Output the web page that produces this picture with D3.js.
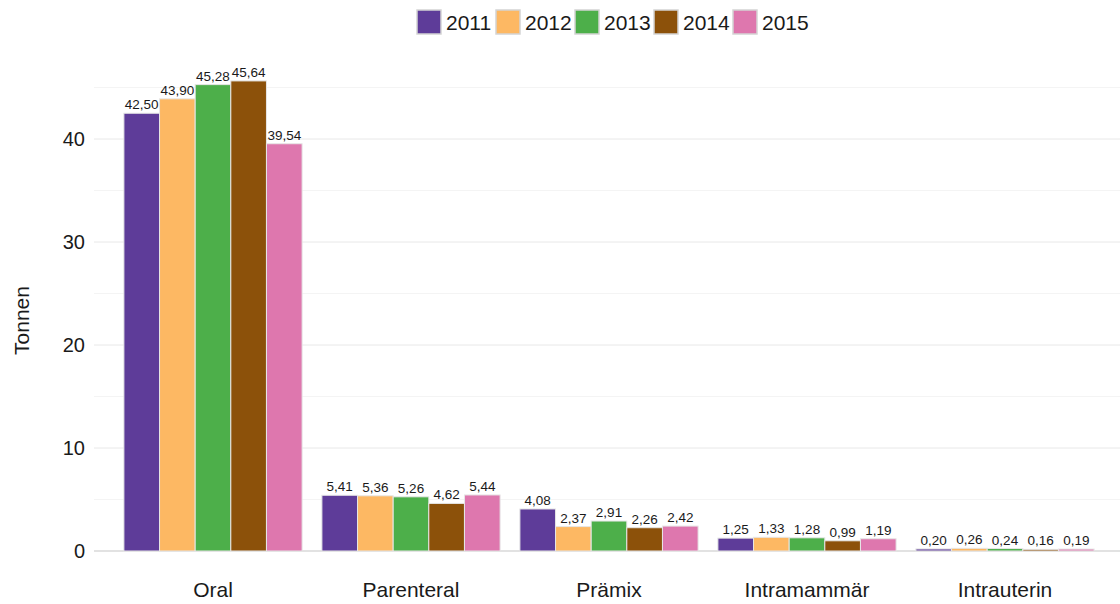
<!DOCTYPE html>
<html lang="de">
<head>
<meta charset="utf-8">
<title>Tonnen nach Applikationsart</title>
<script src="https://d3js.org/d3.v7.min.js"></script>
<style>
  html, body { margin: 0; background: white; }
  svg { font-family: 'Liberation Sans', Arial, sans-serif; }
</style>
</head>
<body>
<div id="vis"></div>
<script>
var categories = ['Oral', 'Parenteral', 'Prämix', 'Intramammär', 'Intrauterin'];
var years = ['2011', '2012', '2013', '2014', '2015'];
var colors = ['#5e3c99', '#fdb863', '#4daf4a', '#8c510a', '#de77ae'];

var v2011 = [42.50, 5.41, 4.08, 1.25, 0.20];
var v2012 = [43.90, 5.36, 2.37, 1.33, 0.26];
var v2013 = [45.28, 5.26, 2.91, 1.28, 0.24];
var v2014 = [45.64, 4.62, 2.26, 0.99, 0.16];
var v2015 = [39.54, 5.44, 2.42, 1.19, 0.19];
var series = [v2011, v2012, v2013, v2014, v2015];

var yTicks = [0, 10, 20, 30, 40];
var yMinor = [5, 15, 25, 35, 45];

var width = 1120, height = 604;
var plot = { left: 94, right: 1120, top: 60, bottom: 551 };

var svg = d3.select('#vis').append('svg')
    .attr('width', width)
    .attr('height', height);

var x0 = d3.scaleBand()
    .domain(categories)
    .range([114, 1104])
    .paddingInner(0.1)
    .paddingOuter(0.05);

var x1 = d3.scaleBand()
    .domain(years)
    .range([0, x0.bandwidth()]);

var y = d3.scaleLinear()
    .domain([0, 47.67])
    .range([plot.bottom, plot.top]);

var fmt = function(v) { return d3.format('.2f')(v).replace('.', ','); };

// grid
svg.append('g').selectAll('line.minor')
    .data(yMinor).enter().append('line')
    .attr('x1', plot.left).attr('x2', plot.right)
    .attr('y1', function(d) { return y(d); })
    .attr('y2', function(d) { return y(d); })
    .attr('stroke', '#f4f4f4').attr('stroke-width', 1);

svg.append('g').selectAll('line.major')
    .data(yTicks).enter().append('line')
    .attr('x1', plot.left).attr('x2', plot.right)
    .attr('y1', function(d) { return y(d); })
    .attr('y2', function(d) { return y(d); })
    .attr('stroke', function(d) { return d === 0 ? '#d9d9d9' : '#e8e8e8'; })
    .attr('stroke-width', function(d) { return d === 0 ? 1.5 : 1; });

// y axis labels
var yAxis = d3.axisLeft(y).tickValues(yTicks).tickSize(0).tickPadding(9);
var gy = svg.append('g')
    .attr('transform', 'translate(' + plot.left + ',0)')
    .call(yAxis);
gy.select('.domain').remove();
gy.selectAll('text')
    .attr('font-size', 20)
    .attr('fill', '#1a1a1a')
    .attr('font-family', "'Liberation Sans', Arial, sans-serif");

svg.append('text')
    .attr('transform', 'translate(29,' + ((plot.top + plot.bottom) / 2 + 15) + ') rotate(-90)')
    .attr('text-anchor', 'middle')
    .attr('font-size', 21)
    .attr('fill', '#1a1a1a')
    .text('Tonnen');

// x axis labels
var xAxis = d3.axisBottom(x0).tickSize(0).tickPadding(31);
var gx = svg.append('g')
    .attr('transform', 'translate(0,' + plot.bottom + ')')
    .call(xAxis);
gx.select('.domain').remove();
gx.selectAll('text')
    .attr('font-size', 21)
    .attr('fill', '#1a1a1a')
    .attr('font-family', "'Liberation Sans', Arial, sans-serif");

// bars
var groups = svg.append('g').selectAll('g.year')
    .data(series).enter().append('g')
    .attr('class', 'year');

groups.each(function(vals, i) {
    var g = d3.select(this);
    g.selectAll('rect')
        .data(vals).enter().append('rect')
        .attr('x', function(d, j) { return x0(categories[j]) + x1(years[i]); })
        .attr('y', function(d) { return y(d); })
        .attr('width', x1.bandwidth())
        .attr('height', function(d) { return y(0) - y(d); })
        .attr('fill', colors[i])
        .attr('stroke', '#e6e6e6')
        .attr('stroke-width', 1);
    g.selectAll('text')
        .data(vals).enter().append('text')
        .attr('x', function(d, j) { return x0(categories[j]) + x1(years[i]) + x1.bandwidth() / 2; })
        .attr('y', function(d) { return y(d) - 4; })
        .attr('text-anchor', 'middle')
        .attr('font-size', 13.5)
        .attr('fill', '#1a1a1a')
        .text(fmt);
});

// legend
var legend = svg.append('g').attr('transform', 'translate(417,10)');
var item = legend.selectAll('g').data(years).enter().append('g')
    .attr('transform', function(d, i) { return 'translate(' + (i * 79) + ',0)'; });
item.append('rect')
    .attr('width', 24).attr('height', 24)
    .attr('fill', function(d, i) { return colors[i]; })
    .attr('stroke', '#d4d4d4').attr('stroke-width', 1.5);
item.append('text')
    .attr('x', 29).attr('y', 20)
    .attr('font-size', 21)
    .attr('fill', '#1a1a1a')
    .text(function(d) { return d; });
</script>
</body>
</html>
